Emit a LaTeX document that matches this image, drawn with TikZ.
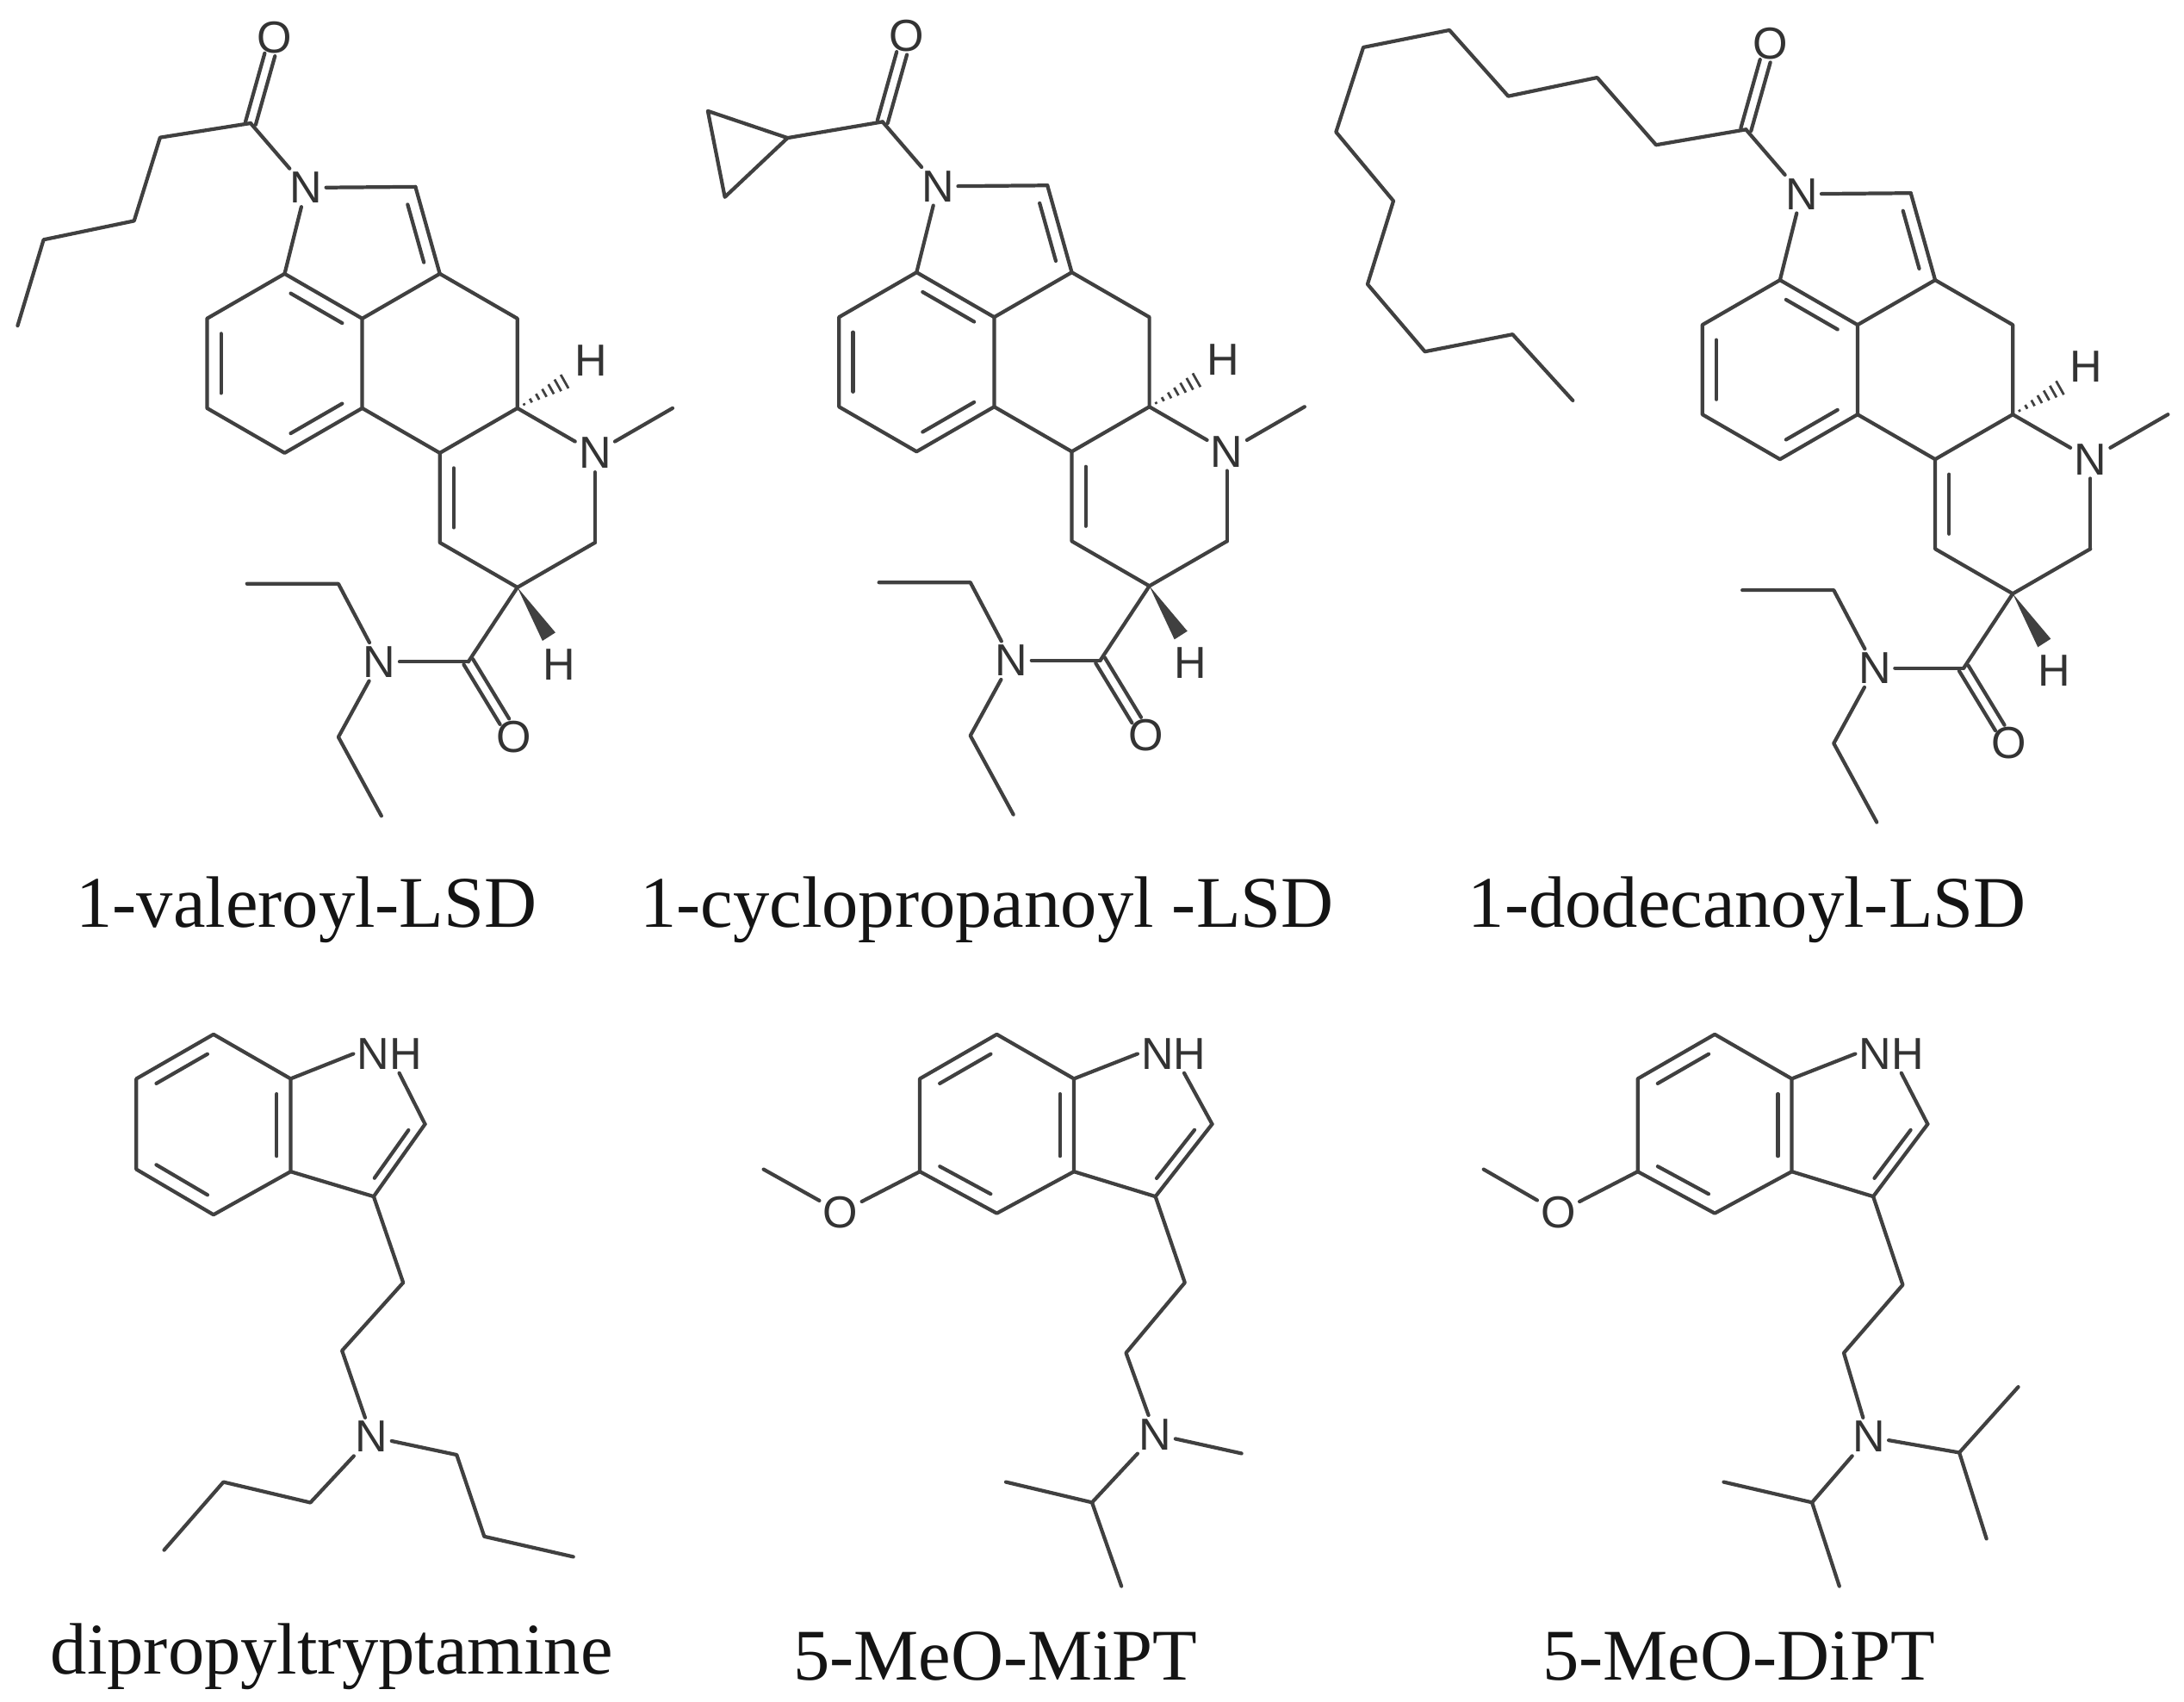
\documentclass[tikz,border=0pt]{standalone}
\usepackage{fontspec}
\setmainfont{Liberation Serif}
\newfontfamily\atomfont{Liberation Sans}
\usetikzlibrary{calc}
\tikzset{
  bond/.style={line width=2.6pt, draw=black!75, line cap=round, line join=round},
  atom/.style={font=\atomfont\fontsize{32}{32}\selectfont, text=black!80, inner sep=2.5pt},
  caption/.style={font=\fontsize{52}{52}\selectfont, text=black!92}
}
\newcommand\innerb[3]{\draw[bond, shorten <=5pt, shorten >=5pt] ($(#1)!0.18!(#3)$) -- ($(#2)!0.18!(#3)$);}
\newcommand\dblo[2]{%
  \draw[bond, shorten >=13pt] ($(#1)!3.8pt!90:(#2.center)$) -- ($(#2.center)!3.8pt!-90:(#1)$);
  \draw[bond, shorten >=13pt] ($(#1)!3.8pt!-90:(#2.center)$) -- ($(#2.center)!3.8pt!90:(#1)$);}
\newcommand\hashb[2]{\foreach \i in {1,...,7}{\draw[line width=1.7pt, draw=black!75] ($(#1)!\i/8!(#2)!\i*0.8pt!90:(#2)$) -- ($(#1)!\i/8!(#2)!\i*0.8pt!-90:(#2)$);}}
\newcommand\lsdcore[1]{%
  \coordinate (#1ca) at (0,1);
  \coordinate (#1cb) at (-0.866,0.5);
  \coordinate (#1cc) at (-0.866,-0.5);
  \coordinate (#1cd) at (0,-1);
  \coordinate (#1ce) at (0.866,-0.5);
  \coordinate (#1cf) at (0.866,0.5);
  \coordinate (#1bz) at (0,0);
  \coordinate (#1c3) at (1.732,1);
  \node[atom] (#1n1) at (0.24,1.96) {N};
  \coordinate (#1c2) at (1.46,1.97);
  \coordinate (#1pc) at (0.86,1.29);
  \coordinate (#1c4) at (2.598,0.5);
  \coordinate (#1c5) at (2.598,-0.5);
  \coordinate (#1c10) at (1.732,-1);
  \coordinate (#1c9) at (1.732,-2);
  \coordinate (#1c8) at (2.598,-2.5);
  \coordinate (#1c7) at (3.464,-2);
  \node[atom] (#1n6) at (3.464,-1) {N};
  \coordinate (#1me) at (4.33,-0.5);
  \coordinate (#1dc) at (2.598,-1.5);
  \coordinate (#1hh) at (3.2,-0.16);
  \node[atom] (#1h1) at (3.42,0.03) {H};
  \coordinate (#1wt) at (2.95,-3.05);
  \node[atom] (#1h2) at (3.06,-3.36) {H};
  \coordinate (#1ac) at (2.05,-3.33);
  \node[atom] (#1ao) at (2.56,-4.17) {O};
  \node[atom] (#1an) at (1.06,-3.33) {N};
  \coordinate (#1e1) at (0.60,-2.46);
  \coordinate (#1e2) at (-0.42,-2.46);
  \coordinate (#1e3) at (0.60,-4.17);
  \coordinate (#1e4) at (1.08,-5.05);
  \coordinate (#1kc) at (-0.38,2.68);
  \node[atom] (#1ko) at (-0.11,3.64) {O};
  \draw[bond] (#1ca)--(#1cb)--(#1cc)--(#1cd)--(#1ce)--(#1cf)--cycle;
  \draw[bond] (#1ca) -- (#1n1);
  \draw[bond] (#1n1) -- (#1c2);
  \draw[bond] (#1c2) -- (#1c3) -- (#1cf);
  \draw[bond] (#1c3) -- (#1c4) -- (#1c5) -- (#1c10) -- (#1ce);
  \draw[bond] (#1c5) -- (#1n6);
  \draw[bond] (#1n6) -- (#1c7);
  \draw[bond] (#1c7) -- (#1c8) -- (#1c9) -- (#1c10);
  \draw[bond] (#1n6) -- (#1me);
  \draw[bond] (#1c8) -- (#1ac);
  \draw[bond] (#1ac) -- (#1an);
  \draw[bond] (#1an) -- (#1e1) -- (#1e2);
  \draw[bond] (#1an) -- (#1e3) -- (#1e4);
  \draw[bond] (#1n1) -- (#1kc);
  \dblo{#1ac}{#1ao}
  \dblo{#1kc}{#1ko}
  \innerb{#1ca}{#1cf}{#1bz}
  \innerb{#1cb}{#1cc}{#1bz}
  \innerb{#1cd}{#1ce}{#1bz}
  \innerb{#1c2}{#1c3}{#1pc}
  \innerb{#1c10}{#1c9}{#1dc}
  \hashb{#1c5}{#1hh}
  \fill[black!75] (#1c8) -- ($(#1wt)!5.5pt!90:(#1c8)$) -- ($(#1wt)!5.5pt!-90:(#1c8)$) -- cycle;
}
\begin{document}
\begin{tikzpicture}[x=1pt,y=1pt]
\useasboundingbox (0,0) rectangle (1560,-1215);
\fill[white] (0,0) rectangle (1560,-1215);
% molecule 1
\begin{scope}[shift={(203.3,-259.5)}, x=64pt, y=64pt]
  \lsdcore{a}
  \coordinate (av1) at (-1.39,2.52);
  \coordinate (av2) at (-1.68,1.59);
  \coordinate (av3) at (-2.69,1.38);
  \coordinate (av4) at (-2.98,0.42);
  \draw[bond] (akc) -- (av1) -- (av2) -- (av3) -- (av4);
\end{scope}
% molecule 2
\begin{scope}[shift={(654.7,-258.5)}, x=64pt, y=64pt]
  \lsdcore{b}
  \coordinate (bp1) at (-1.44,2.50);
  \coordinate (bp2) at (-2.33,2.80);
  \coordinate (bp3) at (-2.14,1.84);
  \draw[bond] (bkc) -- (bp1);
  \draw[bond] (bp1) -- (bp2) -- (bp3) -- cycle;
\end{scope}
% molecule 3
\begin{scope}[shift={(1271.4,-264)}, x=64pt, y=64pt]
  \lsdcore{c}
\end{scope}
\coordinate (cd1) at (1182.9,-103.5);
\coordinate (cd2) at (1140.8,-55.4);
\coordinate (cd3) at (1077.3,-68.7);
\coordinate (cd4) at (1035.3,-21.5);
\coordinate (cd5) at (973.8,-33.8);
\coordinate (cd6) at (954.3,-94.3);
\coordinate (cd7) at (995.3,-143.5);
\coordinate (cd8) at (976.8,-203.0);
\coordinate (cd9) at (1017.8,-251.1);
\coordinate (cd10) at (1080.4,-238.8);
\coordinate (cd11) at (1123.4,-286.0);
\draw[bond] (ckc) -- (cd1) -- (cd2) -- (cd3) -- (cd4) -- (cd5) -- (cd6) -- (cd7) -- (cd8) -- (cd9) -- (cd10) -- (cd11);
% molecule 4: dipropyltryptamine
\coordinate (dt) at (152.5,-738.7);
\coordinate (dul) at (97.4,-770.4);
\coordinate (dll) at (97.4,-835.1);
\coordinate (dbo) at (152.5,-867.5);
\coordinate (d3a) at (207.6,-836.7);
\coordinate (d7a) at (207.6,-770.4);
\coordinate (dbz) at (152.5,-803);
\node[atom] (dnh) at (278.2,-752.6) {NH};
\coordinate (dc2) at (303.6,-802.8);
\coordinate (dc3) at (266.9,-854.5);
\coordinate (dpc) at (254,-804);
\coordinate (dch1) at (288,-916);
\coordinate (dch2) at (244.3,-964.6);
\node[atom] (dn) at (265.5,-1026.1) {N};
\coordinate (dr1) at (326.2,-1039);
\coordinate (dr2) at (345.9,-1097.3);
\coordinate (dr3) at (409.5,-1111.8);
\coordinate (dl1) at (221.7,-1073.1);
\coordinate (dl2) at (159.6,-1058.4);
\coordinate (dl3) at (117.2,-1107);
\draw[bond] (dt)--(dul)--(dll)--(dbo)--(d3a)--(d7a)--cycle;
\draw[bond] (d7a) -- (dnh.west);
\draw[bond] (dnh) -- (dc2);
\draw[bond] (dc2) -- (dc3) -- (d3a);
\draw[bond] (dc3) -- (dch1) -- (dch2) -- (dn);
\draw[bond] (dn) -- (dr1) -- (dr2) -- (dr3);
\draw[bond] (dn) -- (dl1) -- (dl2) -- (dl3);
\innerb{dt}{dul}{dbz}
\innerb{dll}{dbo}{dbz}
\innerb{d3a}{d7a}{dbz}
\innerb{dc2}{dc3}{dpc}
% molecule 5: 5-MeO-MiPT
\coordinate (et) at (712.0,-738.7);
\coordinate (eul) at (657.0,-770.4);
\coordinate (ell) at (657.0,-836.7);
\coordinate (ebo) at (712.0,-866.5);
\coordinate (e3a) at (767.1,-836.7);
\coordinate (e7a) at (767.1,-770.4);
\coordinate (ebz) at (712,-803);
\node[atom] (enh) at (838.3,-752.6) {NH};
\coordinate (ec2) at (865.8,-802.8);
\coordinate (ec3) at (825.3,-854.5);
\coordinate (epc) at (813,-804);
\coordinate (ech1) at (846.3,-916.0);
\coordinate (ech2) at (804.3,-966.2);
\node[atom] (en) at (825.3,-1024.4) {N};
\coordinate (eme) at (886.8,-1038.0);
\coordinate (ei) at (780.0,-1073.0);
\coordinate (ei1) at (718.5,-1058.4);
\coordinate (ei2) at (801.0,-1132.8);
\node[atom] (eo) at (600.4,-865.9) {O};
\coordinate (eom) at (545.4,-835.1);
\draw[bond] (et)--(eul)--(ell)--(ebo)--(e3a)--(e7a)--cycle;
\draw[bond] (e7a) -- (enh.west);
\draw[bond] (enh) -- (ec2);
\draw[bond] (ec2) -- (ec3) -- (e3a);
\draw[bond] (ec3) -- (ech1) -- (ech2) -- (en);
\draw[bond] (en) -- (eme);
\draw[bond] (en) -- (ei) -- (ei1);
\draw[bond] (ei) -- (ei2);
\draw[bond] (ell) -- (eo);
\draw[bond] (eo) -- (eom);
\innerb{et}{eul}{ebz}
\innerb{ell}{ebo}{ebz}
\innerb{e3a}{e7a}{ebz}
\innerb{ec2}{ec3}{epc}
% molecule 6: 5-MeO-DiPT
\coordinate (ft) at (1224.8,-738.7);
\coordinate (ful) at (1169.8,-770.4);
\coordinate (fll) at (1169.8,-836.7);
\coordinate (fbo) at (1224.8,-866.5);
\coordinate (f3a) at (1279.8,-836.7);
\coordinate (f7a) at (1279.8,-770.4);
\coordinate (fbz) at (1224.8,-803);
\node[atom] (fnh) at (1351.0,-752.6) {NH};
\coordinate (fc2) at (1376.9,-802.8);
\coordinate (fc3) at (1338.0,-854.5);
\coordinate (fpc) at (1326,-804);
\coordinate (fch1) at (1359.1,-917.6);
\coordinate (fch2) at (1317.0,-966.2);
\node[atom] (fn) at (1334.8,-1026.1) {N};
\coordinate (fr) at (1399.5,-1037.4);
\coordinate (fr1) at (1441.6,-990.5);
\coordinate (fr2) at (1418.9,-1098.9);
\coordinate (fl) at (1294.3,-1073.0);
\coordinate (fl1) at (1231.2,-1058.4);
\coordinate (fl2) at (1313.8,-1132.8);
\node[atom] (fo) at (1113.1,-865.9) {O};
\coordinate (fom) at (1059.7,-835.1);
\draw[bond] (ft)--(ful)--(fll)--(fbo)--(f3a)--(f7a)--cycle;
\draw[bond] (f7a) -- (fnh.west);
\draw[bond] (fnh) -- (fc2);
\draw[bond] (fc2) -- (fc3) -- (f3a);
\draw[bond] (fc3) -- (fch1) -- (fch2) -- (fn);
\draw[bond] (fn) -- (fr) -- (fr1);
\draw[bond] (fr) -- (fr2);
\draw[bond] (fn) -- (fl) -- (fl1);
\draw[bond] (fl) -- (fl2);
\draw[bond] (fll) -- (fo);
\draw[bond] (fo) -- (fom);
\innerb{ft}{ful}{fbz}
\innerb{fll}{fbo}{fbz}
\innerb{f3a}{f7a}{fbz}
\innerb{fc2}{fc3}{fpc}
% captions
\node[caption] (l1) at (219,-650) {1-valeroyl-LSD};
\node[caption] (l2) at (705,-650) {1-cyclopropanoyl -LSD};
\node[caption] (l3) at (1248,-650) {1-dodecanoyl-LSD};
\node[caption] (l4) at (237,-1183) {dipropyltryptamine};
\node[caption] (l5) at (711,-1183) {5-MeO-MiPT};
\node[caption] (l6) at (1242,-1183) {5-MeO-DiPT};
\end{tikzpicture}
\end{document}
